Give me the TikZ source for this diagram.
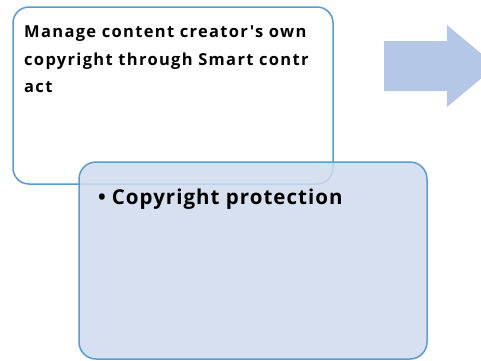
\documentclass[tikz,border=0pt]{standalone}
\usepackage{fontspec}
\setmainfont{Open Sans}
\newfontfamily\boxfontA{Open Sans Bold}[LetterSpace=8]
\newfontfamily\boxfontB{Open Sans Bold}[LetterSpace=5]
\definecolor{edgeblue}{RGB}{91,155,213}
\definecolor{boxblue}{RGB}{207,219,239}
\definecolor{arrowblue}{RGB}{180,199,231}
\tikzset{
  whitebox/.style={draw=edgeblue, line width=1.5pt, fill=white, rounded corners=16pt},
  bluebox/.style={draw=edgeblue, line width=1.5pt, fill=boxblue, fill opacity=0.85, draw opacity=1, rounded corners=17pt},
  boxtext/.style={anchor=base west, inner sep=0pt, align=left, text=black},
}
\begin{document}
\begin{tikzpicture}[x=1pt,y=-1pt]
\useasboundingbox (0,0) rectangle (481,360);
% white box
\path[whitebox] (13,7) rectangle (333,184);
\node[boxtext, font=\boxfontA\fontsize{16.5}{27.6}\selectfont] (t1) at (24,92.7)
  {Manage content creator's own\\copyright through Smart contr\\act};
% blue box
\path[bluebox] (79,162) rectangle (427,359);
\node[boxtext, font=\boxfontB\fontsize{20.5}{27}\selectfont] (t2) at (98,204)
  {\textbullet\hspace{6pt}Copyright protection};
% arrow
\fill[arrowblue] (384,41) -- (447,41) -- (447,25) -- (496,66) -- (447,107) -- (447,91) -- (384,91) -- cycle;
\end{tikzpicture}
\end{document}
